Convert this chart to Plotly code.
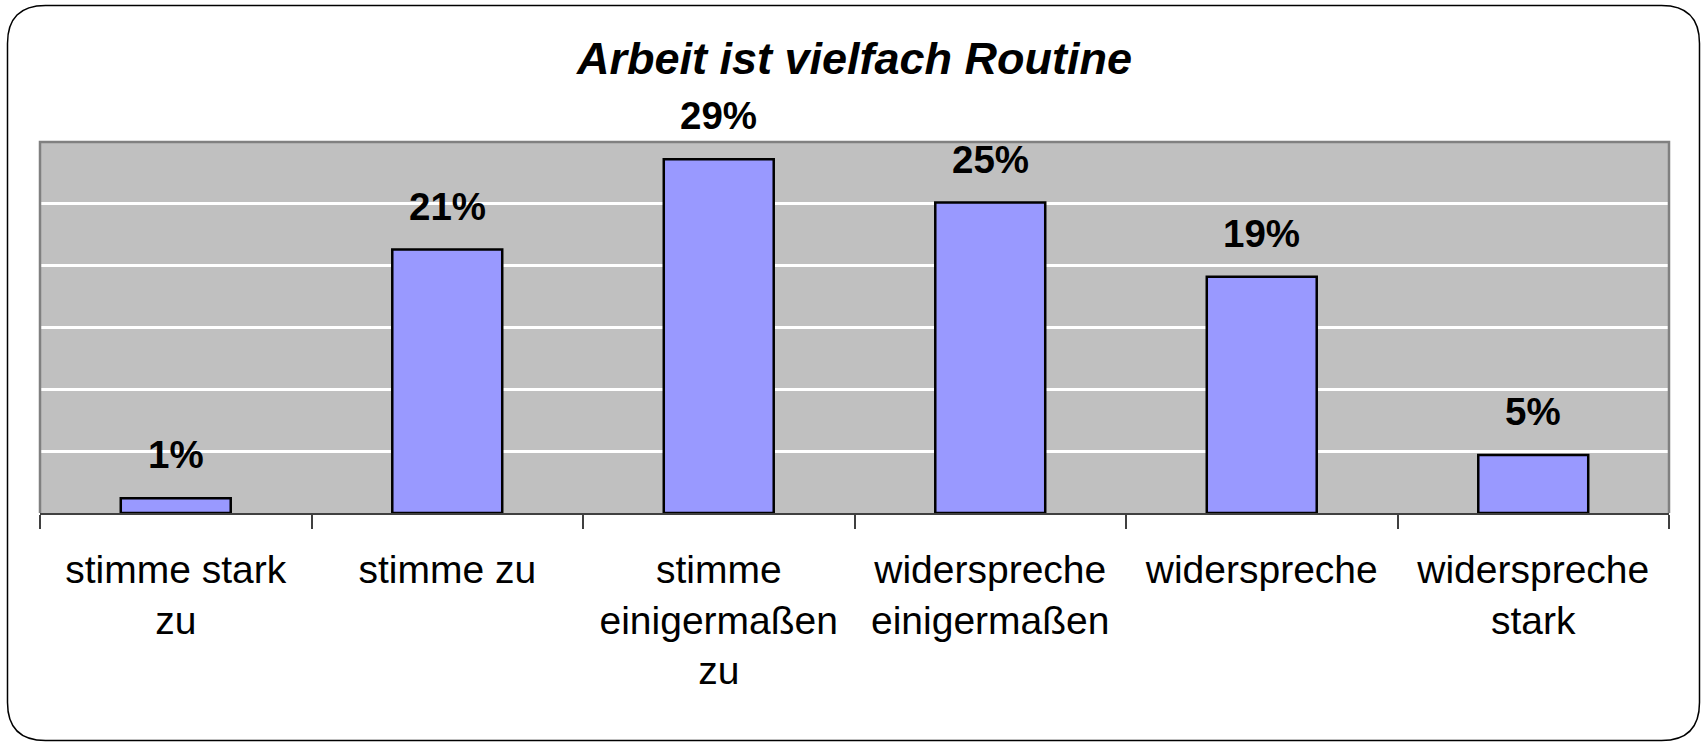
import plotly.graph_objects as go

categories = ["stimme stark<br>zu", "stimme zu", "stimme<br>einigermaßen<br>zu",
              "widerspreche<br>einigermaßen", "widerspreche", "widerspreche<br>stark"]
values = [1.2, 21.3, 28.6, 25.1, 19.1, 4.7]
value_labels = ["1%", "21%", "29%", "25%", "19%", "5%"]
title_text = "Arbeit ist vielfach Routine"

W, H = 1702, 743
ML, MR, MT, MB = 40, 33, 142, 230
PW = W - ML - MR
PH = H - MT - MB
FONT = "Liberation Sans, Arial, sans-serif"

fig = go.Figure()
fig.add_trace(go.Bar(
    x=categories, y=values, width=0.405,
    marker=dict(color="#9999FF", line=dict(color="#000000", width=2.5)),
    hoverinfo="skip", showlegend=False,
))

for c, v, t in zip(categories, values, value_labels):
    fig.add_annotation(x=c, y=v, text=t, showarrow=False, yanchor="bottom",
                       yshift=20, font=dict(family=FONT, size=38.5, color="#000000", weight="bold"))

def px2paper(px, py):
    return (px - ML) / PW, (H - MB - py) / PH

# rounded outer frame
x0, y0, x1, y1, r = 7.5, 5.5, 1699.5, 740.5, 38
pts = [
    ("M", (x0 + r, y0)), ("L", (x1 - r, y0)), ("Q", (x1, y0), (x1, y0 + r)),
    ("L", (x1, y1 - r)), ("Q", (x1, y1), (x1 - r, y1)),
    ("L", (x0 + r, y1)), ("Q", (x0, y1), (x0, y1 - r)),
    ("L", (x0, y0 + r)), ("Q", (x0, y0), (x0 + r, y0)),
]
path = ""
for item in pts:
    cmd = item[0]
    coords = " ".join("%.5f,%.5f" % px2paper(*p) for p in item[1:])
    path += cmd + coords + " "
path += "Z"
fig.add_shape(type="path", xref="paper", yref="paper", path=path,
              line=dict(color="#000000", width=1.5), layer="below")

# plot area border (left, top, right)
fig.add_shape(type="path", xref="paper", yref="paper",
              path="M0,0 L0,1 L1,1 L1,0",
              line=dict(color="#808080", width=2.5), layer="above")

fig.update_layout(
    width=W, height=H,
    margin=dict(l=ML, r=MR, t=MT, b=MB, pad=0),
    paper_bgcolor="#FFFFFF", plot_bgcolor="#C0C0C0",
    title=dict(text=title_text, x=(ML + PW / 2) / W, xanchor="center",
               y=1 - 58 / H, yanchor="middle", yref="container",
               font=dict(family=FONT, size=45, color="#000000", weight="bold", style="italic")),
    bargap=0.595,
    font=dict(family=FONT),
)
fig.update_xaxes(
    tickson="boundaries", ticks="outside", ticklen=14, tickwidth=1.5, tickcolor="#404040",
    showline=True, linecolor="#404040", linewidth=2,
    tickfont=dict(family=FONT, size=39, color="#000000"),
    ticklabelstandoff=21, showgrid=False,
)
fig.update_yaxes(
    range=[0, 30], dtick=5, showticklabels=False, ticks="",
    showgrid=True, gridcolor="#FFFFFF", gridwidth=3, zeroline=False, showline=False,
)

fig.write_html("out.html", config={"displayModeBar": False},
               post_script="document.body.style.margin='0';document.body.style.overflow='hidden';")
